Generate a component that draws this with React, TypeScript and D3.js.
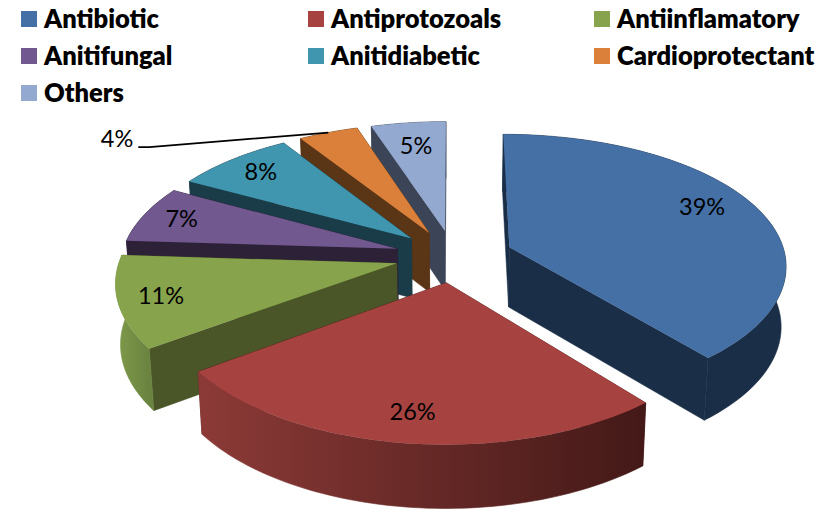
import React from "react";
import * as d3 from "d3";

const categories = ["Antibiotic", "Antiprotozoals", "Antiinflamatory", "Anitifungal", "Anitidiabetic", "Cardioprotectant", "Others"];
const shares = [39, 26, 11, 7, 8, 4, 5];
const topColors = ["#4570a6", "#a64341", "#87a34b", "#71588f", "#3f96ae", "#da803a", "#93a9d0"];
const sideColors = ["#1a2e47", "#4b1c1a", "#4b5628", "#2d2138", "#1a3c48", "#5a3616", "#3c4558"];
const wallFrom = ["#1a2e47", "#8c3a37", "#7f9a4a", "#2d2138", "#1a3c48", "#5a3616", "#3c4558"];
const wallTo = ["#1a2e47", "#431917", "#6a8340", "#2d2138", "#1a3c48", "#5a3616", "#3c4558"];
// where each value label sits: fraction of the radius, and turn from the slice's middle in degrees
const labelReach = [0.81, 0.83, 0.85, 0.85, 0.83, 1, 0.77];
const labelTurn = [-4, 0, 0, 0, 0, 0, 0];

const W = 838;
const H = 510;
const CX = 454;
const CY = 256;
const RX = 276;
const RY = 131;
const TILT_X = 0.125;
const TILT_Y = 0.14;
const DEPTH = 60;
const EXPLODE_X = 0.215;
const EXPLODE_Z = 0.2;
const LEGEND_X = [21, 308, 594];
const LEGEND_Y = [11, 48, 85];

// Perspective projection of a point on the pie's plane; h = 1 is the underside.
function project(x: number, z: number, h = 0): [number, number] {
  const sx = CX + (RX * x) / (1 + TILT_X * z);
  const sy = CY - (RY * z) / (1 + TILT_Y * z);
  const lift = 1 + 0.05 * z;
  return [CX + (sx - CX) * (1 - 0.015 * h), sy + (h * DEPTH) / lift];
}

const arcs = d3
  .pie<number>()
  .sort(null)
  .value((d) => d)
  .startAngle(0)
  .endAngle(2 * Math.PI)(shares);

const outline = d3.line();

function sliceGeometry(i: number) {
  const { startAngle: a0, endAngle: a1 } = arcs[i];
  const mid = (a0 + a1) / 2;
  const ox = EXPLODE_X * Math.sin(mid);
  const oz = EXPLODE_Z * Math.cos(mid);
  const at = (a: number, r: number, h = 0) => project(ox + r * Math.sin(a), oz + r * Math.cos(a), h);
  const steps = d3.range(0, 73).map((k) => a0 + ((a1 - a0) * k) / 72);
  return { a0, a1, mid, at, steps };
}

export default function App() {
  return (
    <svg width={W} height={H} style={{ position: "absolute", left: 0, top: 0, background: "#fff" }} fontFamily="Lato, Carlito, sans-serif">
      <defs>
        {categories.map((_, i) => {
          const g = sliceGeometry(i);
          const xs = g.steps.map((a) => g.at(a, 1)[0]);
          const [lo, hi] = d3.extent(xs) as [number, number];
          return (
            <linearGradient key={i} id={`wall-${i}`} gradientUnits="userSpaceOnUse" x1={lo} x2={hi} y1={0} y2={0}>
              <stop offset="0" stopColor={wallFrom[i]} />
              <stop offset="1" stopColor={wallTo[i]} />
            </linearGradient>
          );
        })}
      </defs>

      {/* slices, furthest from the viewer first */}
      {[6, 5, 4, 3, 2, 1, 0].map((i) => {
        const g = sliceGeometry(i);
        const topRim = g.steps.map((a) => g.at(a, 1));
        const lowRim = g.steps.map((a) => g.at(a, 1, 1)).reverse();
        const apexTop = g.at(0, 0);
        const apexLow = g.at(0, 0, 1);
        const face = (a: number) => outline([apexTop, g.at(a, 1), g.at(a, 1, 1), apexLow])! + "Z";
        return (
          <g key={i}>
            <path d={face(g.a0)} fill={sideColors[i]} stroke={sideColors[i]} strokeWidth={0.5} />
            <path d={face(g.a1)} fill={sideColors[i]} stroke={sideColors[i]} strokeWidth={0.5} />
            <path d={outline([...topRim, ...lowRim])! + "Z"} fill={`url(#wall-${i})`} stroke={`url(#wall-${i})`} strokeWidth={0.6} />
            <path d={outline([apexTop, ...topRim])! + "Z"} fill={topColors[i]} />
          </g>
        );
      })}

      {/* value labels */}
      {categories.map((_, i) => {
        const g = sliceGeometry(i);
        if (shares[i] === 4) {
          const tip = g.at(g.mid, 1);
          const anchor: [number, number] = [tip[0] - 190, tip[1] + 14.5];
          const elbow: [number, number] = [anchor[0] + 11, anchor[1]];
          return (
            <g key={i}>
              <path d={outline([tip, elbow, anchor])!} fill="none" stroke="#000" strokeWidth={1.8} />
              <text x={anchor[0] - 5} y={anchor[1] - 8} dy="0.35em" textAnchor="end" fontSize={23.5} fill="#000">
                {shares[i]}%
              </text>
            </g>
          );
        }
        const [x, y] = g.at(g.mid + (labelTurn[i] * Math.PI) / 180, labelReach[i]);
        return (
          <text key={i} x={x} y={y} dy="0.35em" textAnchor="middle" fontSize={23.5} fill="#000">
            {shares[i]}%
          </text>
        );
      })}

      {/* legend */}
      {categories.map((name, i) => {
        const x = LEGEND_X[i % 3];
        const y = LEGEND_Y[Math.floor(i / 3)];
        return (
          <g key={name}>
            <rect x={x} y={y} width={16} height={16} fill={topColors[i]} />
            <text x={x + 23} y={y + 17} fontSize={25.5} fontWeight={800} fill="#000">
              {name}
            </text>
          </g>
        );
      })}
    </svg>
  );
}
